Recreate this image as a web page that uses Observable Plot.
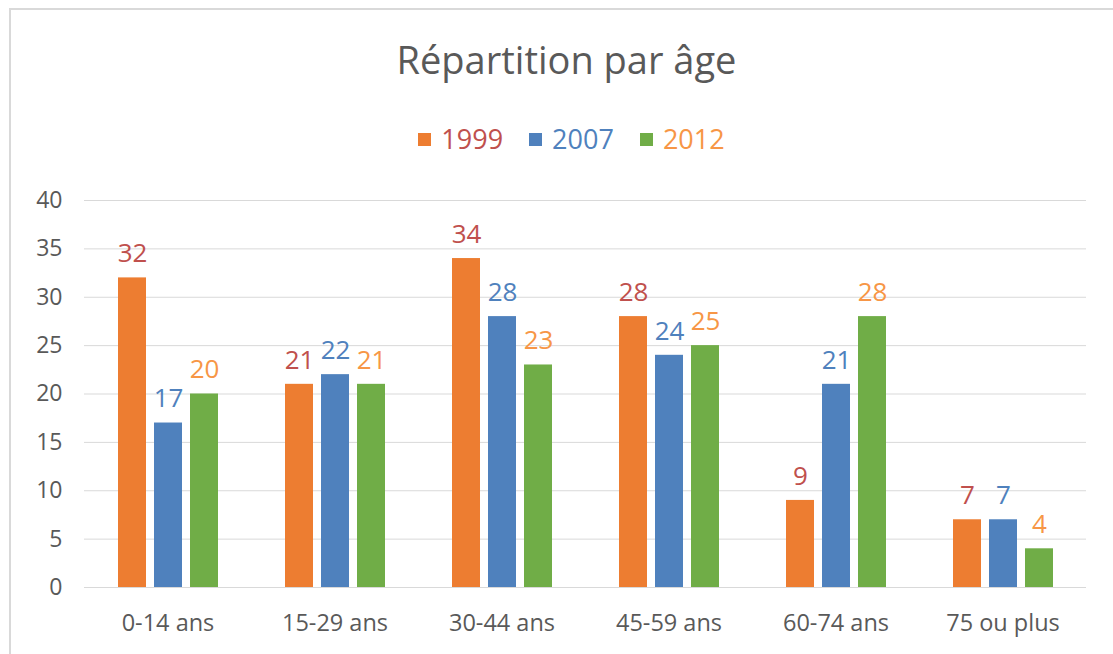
<!DOCTYPE html>
<html>
<head>
<meta charset="utf-8">
<script src="https://cdn.jsdelivr.net/npm/d3@7"></script>
<script src="https://cdn.jsdelivr.net/npm/@observablehq/plot@0.6"></script>
<style>
  html, body { margin: 0; padding: 0; background: #fff; }
  #wrap { position: relative; width: 1113px; height: 654px; overflow: hidden; font-family: "Open Sans", sans-serif; }
  #frame { position: absolute; left: 9px; top: 8px; width: 1200px; height: 800px; border-top: 2px solid #d9d9d9; border-left: 2px solid #d9d9d9; }
  #title { position: absolute; left: 10px; width: 1113px; top: 33px; text-align: center; font-size: 38px; color: #595959; white-space: nowrap; }
  #legend { position: absolute; left: 15px; width: 1113px; top: 119px; display: flex; justify-content: center; align-items: center; font-size: 27px; line-height: 40px; }
  #legend span.item { display: flex; align-items: center; margin: 0 13px; }
  #legend span.sw { display: inline-block; width: 13px; height: 13px; margin-right: 10px; }
  #chart { position: absolute; left: 0; top: 0; }
</style>
</head>
<body>
<div id="wrap">
  <div id="frame"></div>
  <div id="chart"></div>
  <div id="title">Répartition par âge</div>
  <div id="legend"></div>
</div>
<script>
const categories = ["0-14 ans", "15-29 ans", "30-44 ans", "45-59 ans", "60-74 ans", "75 ou plus"];
const years = ["1999", "2007", "2012"];
const v1999 = [32, 21, 34, 28, 9, 7];
const v2007 = [17, 22, 28, 24, 21, 7];
const v2012 = [20, 21, 23, 25, 28, 4];
const yTicks = [0, 5, 10, 15, 20, 25, 30, 35, 40];

const barColors = {"1999": "#ed7d31", "2007": "#4f81bd", "2012": "#70ad47"};
const labelColors = {"1999": "#c0504d", "2007": "#4f81bd", "2012": "#f79646"};

const series = {"1999": v1999, "2007": v2007, "2012": v2012};
const data = [];
for (const y of years) categories.forEach((c, i) => data.push({cat: c, year: y, value: series[y][i]}));

const legend = document.getElementById("legend");
legend.innerHTML = years.map(y =>
  `<span class="item"><span class="sw" style="background:${barColors[y]}"></span><span style="color:${labelColors[y]}">${y}</span></span>`
).join("");

const marks = [
  Plot.gridY(yTicks, {stroke: "#d9d9d9", strokeOpacity: 1, strokeWidth: 1}),
  Plot.axisY(yTicks, {tickSize: 0, tickPadding: 22, fontSize: 23, fill: "#595959", label: null}),
  Plot.axisFx({anchor: "bottom", tickSize: 0, tickPadding: 27, fontSize: 23.5, fill: "#595959", label: null}),
];
for (const y of years) {
  const d = data.filter(r => r.year === y);
  marks.push(Plot.barY(d, {fx: "cat", x: "year", y: "value", fill: barColors[y], inset: 0}));
  marks.push(Plot.text(d, {fx: "cat", x: "year", y: "value", text: r => String(r.value), dy: -24, fill: labelColors[y], fontSize: 26}));
}
marks.push(Plot.ruleY([0], {stroke: "#d9d9d9", strokeWidth: 1}));

const chart = Plot.plot({
  width: 1113,
  height: 654,
  marginLeft: 82,
  marginRight: 25,
  marginTop: 200,
  marginBottom: 67,
  style: {fontFamily: "Open Sans, sans-serif", background: "transparent"},
  fx: {domain: categories, padding: 0, label: null},
  x: {domain: years, paddingInner: 0.23, paddingOuter: 0.91, axis: null},
  y: {domain: [0, 40], axis: null},
  marks
});
document.getElementById("chart").appendChild(chart);
</script>
</body>
</html>
